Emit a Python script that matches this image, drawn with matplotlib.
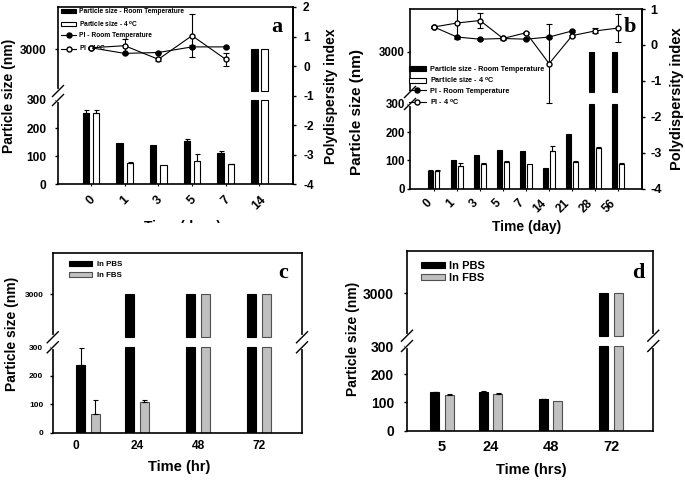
import numpy as np
import matplotlib
matplotlib.use("Agg")
import matplotlib.pyplot as plt
from matplotlib.patches import Patch, Rectangle
from matplotlib.lines import Line2D

plt.rcParams['font.family'] = ['Liberation Sans', 'DejaVu Sans']
plt.rcParams['font.weight'] = 'bold'
plt.rcParams['mathtext.fontset'] = 'custom'
plt.rcParams['mathtext.rm'] = 'Liberation Sans:bold'
plt.rcParams['mathtext.bf'] = 'Liberation Sans:bold'
plt.rcParams['axes.linewidth'] = 1.2
plt.rcParams['axes.unicode_minus'] = False

# --- panel a: storage, particle size + PI ---
a_days = ['0', '1', '3', '5', '7', '14']
a_size_rt = [253, 146, 139, 155, 111, 3000]
a_size_rt_err = [13, 0, 0, 7, 7, 0]
a_size_4c = [253, 77, 69, 83, 72, 3000]
a_size_4c_err = [13, 3, 0, 24, 2, 0]
a_pi_rt = [0.62, 0.43, 0.46, 0.65, 0.65]
a_pi_rt_err = [0.02, 0.03, 0.03, 0.05, 0.03]
a_pi_4c = [0.62, 0.69, 0.23, 1.03, 0.23]
a_pi_4c_err = [0.03, 0.23, 0.05, 0.73, 0.23]

# --- panel b ---
b_days = ['0', '1', '3', '5', '7', '14', '21', '28', '56']
b_size_rt = [62, 102, 121, 136, 133, 74, 194, 3000, 3000]
b_size_rt_err = [3, 0, 0, 0, 0, 0, 0, 0, 0]
b_size_4c = [62, 81, 87, 95, 88, 135, 95, 145, 86]
b_size_4c_err = [3, 11, 3, 2, 0, 17, 2, 2, 6]
b_pi_rt = [0.50, 0.22, 0.16, 0.18, 0.16, 0.22, 0.39]
b_pi_rt_err = [0.02, 0.03, 0.02, 0.02, 0.02, 0.04, 0.03]
b_pi_4c = [0.50, 0.61, 0.68, 0.18, 0.34, -0.52, 0.26, 0.39, 0.47]
b_pi_4c_err = [0.03, 0.45, 0.2, 0.03, 0.03, 1.1, 0.03, 0.07, 0.4]

# --- panel c / d: serum stability ---
c_hours = ['0', '24', '48', '72']
c_pbs = [237, 3000, 3000, 3000]
c_pbs_err = [62, 0, 0, 0]
c_fbs = [65, 107, 3000, 3000]
c_fbs_err = [50, 7, 0, 0]

d_hours = ['5', '24', '48', '72']
d_pbs = [136, 138, 111, 3000]
d_pbs_err = [2, 3, 2, 0]
d_fbs = [128, 130, 105, 3000]
d_fbs_err = [2, 2, 0, 0]

size_labels = ['Particle size - Room Temperature', 'Particle size - 4 $^{\\mathrm{o}}$C',
               'PI - Room Temperature', 'PI - 4 $^{\\mathrm{o}}$C']
serum_labels = ['In PBS', 'In FBS']

W, H = 685, 480
BRK = 1000  # value where the upper segment of the broken axis starts
GRAY = '#c0c0c0'

fig = plt.figure(figsize=(6.85, 4.8), dpi=100)


def box(l, t, r, b):
    return [l / W, 1 - b / H, (r - l) / W, (b - t) / H]


def fpos(x, y):
    return x / W, 1 - y / H


def broken_scale(ax, p300, pbrk, p3000, height):
    # piecewise linear y axis: 0-300 below the break, ~1000-3000 above it
    k = (p3000 - pbrk) / 2000.0
    vk = [0, 300, BRK, 3000, 20000]
    pk = [0, p300, pbrk, p3000, p3000 + 17000 * k]
    fwd = lambda v: np.interp(v, vk, pk)
    inv = lambda p: np.interp(p, pk, vk)
    ax.set_yscale('function', functions=(fwd, inv))
    ax.set_ylim(0, float(inv(height)))
    ax.set_yticks([0, 100, 200, 300, 3000])
    ax.yaxis.set_minor_locator(plt.NullLocator())
    return [p300 / height, pbrk / height]


def split_bars(ax, x, vals, errs, **kw):
    x = np.asarray(x, float)
    vals = np.asarray(vals, float)
    errs = np.asarray(errs, float)
    ax.bar(x, np.minimum(vals, 300), **kw)
    up = vals > 300
    if up.any():
        ax.bar(x[up], vals[up] - BRK, bottom=BRK, **kw)
    m = (~up) & (errs > 0)
    if m.any():
        ax.errorbar(x[m], vals[m], yerr=[np.zeros(m.sum()), errs[m]], fmt='none',
                    ecolor='black', elinewidth=0.8, capsize=1.8, capthick=0.8)


def break_marks(ax, fr, sides, wpx, hpx):
    dx, dy = 5.5 / wpx, 5.5 / hpx
    for s in sides:
        ax.plot([s, s], fr, color='white', lw=3, transform=ax.transAxes,
                clip_on=False, zorder=5)
        for f in fr:
            ax.plot([s - dx, s + dx], [f - dy, f + dy], color='black', lw=1,
                    transform=ax.transAxes, clip_on=False, zorder=6)


def size_legend(ax, anchor, fs, hl, tp, ls):
    hs = [Patch(fc='black', ec='black', lw=0.8), Patch(fc='white', ec='black', lw=0.8),
          Line2D([], [], color='black', marker='o', ms=3.6, lw=0.8),
          Line2D([], [], color='black', marker='o', mfc='white', ms=3.6, lw=0.8)]
    ax.legend(hs, size_labels, loc='upper left', bbox_to_anchor=fpos(*anchor),
              bbox_transform=fig.transFigure, frameon=False, fontsize=fs,
              handlelength=hl, handletextpad=tp, labelspacing=ls, borderpad=0,
              borderaxespad=0, handleheight=0.6)


def pi_lines(ax2, rt, rt_err, c4, c4_err):
    ax2.errorbar(np.arange(len(rt)), rt, yerr=rt_err, fmt='-o', color='black',
                 ms=3.6, lw=0.8, capsize=2.4, elinewidth=0.8, capthick=0.8, zorder=3)
    ax2.errorbar(np.arange(len(c4)), c4, yerr=c4_err, fmt='-o', color='black', mfc='white',
                 mec='black', ms=3.6, lw=0.8, capsize=2.4, elinewidth=0.8, capthick=0.8, zorder=4)


# ================= panel a =================
ax = fig.add_axes(box(58, 6.7, 292.7, 184.3))
fr = broken_scale(ax, 84.3, 93.3, 135.3, 177.6)
xa = np.arange(len(a_days))
split_bars(ax, xa - 0.15, a_size_rt, a_size_rt_err, width=0.19, facecolor='black',
           edgecolor='black', lw=0.8)
split_bars(ax, xa + 0.15, a_size_4c, a_size_4c_err, width=0.19, facecolor='white',
           edgecolor='black', lw=0.8)
ax.set_xlim(-0.98, 5.99)
ax.set_xticks(xa, a_days, rotation=45, ha='center', va='top')
ax.tick_params(axis='y', direction='out', length=2.2, width=1, labelsize=8.6, pad=6)
ax.tick_params(axis='x', direction='out', length=1.5, width=0.8, labelsize=9, pad=5.5)
break_marks(ax, fr, [0], 234.7, 177.6)
ax2 = ax.twinx()
for s in ['left', 'top', 'bottom']:
    ax2.spines[s].set_visible(False)
ax2.set_ylim(-4, 2.01)
ax2.set_yticks(range(-4, 3))
ax2.tick_params(axis='y', direction='out', length=2.2, width=1, labelsize=8.6, pad=5.3)
pi_lines(ax2, a_pi_rt, a_pi_rt_err, a_pi_4c, a_pi_4c_err)
size_legend(ax2, (61, 8), 4.8, 2.25, 0.5, 0.55)
fig.text(*fpos(277, 27), 'a', fontfamily='Liberation Serif', fontsize=16, weight='bold',
         ha='center', va='center')
fig.text(*fpos(9, 96), 'Particle size (nm)', rotation=90, ha='center', va='center', fontsize=10)
fig.text(*fpos(331, 96), 'Polydispersity index', rotation=90, ha='center', va='center',
         fontsize=10)
# x label of panel a is cut off in the original figure: only the top of the letters shows
fig.text(*fpos(183, 219.5), 'Time (days)', ha='center', va='top', fontsize=10)
fig.add_artist(Rectangle(fpos(120, 244), 130 / W, 21.5 / H, transform=fig.transFigure,
                         facecolor='white', edgecolor='none', zorder=10))

# ================= panel b =================
ax = fig.add_axes(box(410, 9, 642, 188.7))
fr = broken_scale(ax, 84.7, 96.7, 137, 179.7)
xb = np.arange(len(b_days))
split_bars(ax, xb - 0.16, b_size_rt, b_size_rt_err, width=0.2, facecolor='black',
           edgecolor='black', lw=0.8)
split_bars(ax, xb + 0.14, b_size_4c, b_size_4c_err, width=0.2, facecolor='white',
           edgecolor='black', lw=0.8)
ax.set_xlim(-1.04, 9.03)
ax.set_xticks(xb, b_days, rotation=45, ha='right', va='top')
ax.tick_params(axis='y', direction='out', length=2.2, width=1, labelsize=8.3, pad=1.5)
ax.tick_params(axis='x', direction='out', length=1.5, width=0.8, labelsize=8.6, pad=4.5)
break_marks(ax, fr, [0], 232, 179.7)
ax2 = ax.twinx()
for s in ['left', 'top', 'bottom']:
    ax2.spines[s].set_visible(False)
ax2.set_ylim(-4, 1)
ax2.set_yticks(range(-4, 2))
ax2.tick_params(axis='y', direction='out', length=2.2, width=1, labelsize=9.2, pad=3.6)
pi_lines(ax2, b_pi_rt, b_pi_rt_err, b_pi_4c, b_pi_4c_err)
size_legend(ax2, (409, 66), 5.2, 2.3, 0.55, 0.32)
fig.text(*fpos(629.5, 27.5), 'b', fontfamily='Liberation Serif', fontsize=16, weight='bold',
         ha='center', va='center')
fig.text(*fpos(357.5, 112), 'Particle size (nm)', rotation=90, ha='center', va='center',
         fontsize=11)
fig.text(*fpos(677.5, 99), 'Polydispersity index', rotation=90, ha='center', va='center',
         fontsize=10.5)
fig.text(*fpos(526.7, 226.7), 'Time (day)', ha='center', va='center', fontsize=10)

# ================= panels c and d =================
group_shift = np.array([0.2, 0, 0, 0])


def serum_panel(rect, scale, pbs, pbs_err, fbs, fbs_err, labels, tick_at_groups,
                ytick_fs, ytick_pad, xtick_fs, xtick_pad, leg):
    ax = fig.add_axes(box(*rect))
    fr = broken_scale(ax, *scale)
    pos = np.arange(len(labels))
    groups = pos + group_shift
    split_bars(ax, groups - 0.12, pbs, pbs_err, width=0.15, facecolor='black',
               edgecolor='black', lw=0.8)
    split_bars(ax, groups + 0.12, fbs, fbs_err, width=0.15, facecolor=GRAY,
               edgecolor='#505050', lw=0.8)
    ax.set_xlim(-0.38, 3.7)
    ax.set_xticks(groups if tick_at_groups else pos, labels)
    ax.tick_params(axis='y', direction='out', length=2.2, width=1, labelsize=ytick_fs,
                   pad=ytick_pad)
    ax.tick_params(axis='x', length=0, labelsize=xtick_fs, pad=xtick_pad)
    break_marks(ax, fr, [0, 1], rect[2] - rect[0], rect[3] - rect[1])
    hs = [Patch(fc='black', ec='black', lw=0.8), Patch(fc=GRAY, ec='#505050', lw=0.8)]
    ax.legend(hs, serum_labels, loc='upper left', bbox_to_anchor=fpos(*leg[0]),
              bbox_transform=fig.transFigure, frameon=False, fontsize=leg[1],
              handlelength=leg[2], handletextpad=leg[3], labelspacing=leg[4],
              borderpad=0, borderaxespad=0, handleheight=0.5)
    return ax


serum_panel((52.7, 252.7, 302, 432.7), (85.4, 95.4, 138.4, 180), c_pbs, c_pbs_err,
            c_fbs, c_fbs_err, c_hours, False, 6, 4.6, 8.6, 5.5,
            ((69, 261), 5.7, 2.87, 0.7, 0.5))
fig.text(*fpos(283, 273), 'c', fontfamily='Liberation Serif', fontsize=16, weight='bold',
         ha='center', va='center')
fig.text(*fpos(11.7, 334), 'Particle size (nm)', rotation=90, ha='center', va='center',
         fontsize=10)
fig.text(*fpos(179, 466.7), 'Time (hr)', ha='center', va='center', fontsize=10.5)

serum_panel((407, 251, 653.3, 430.7), (84.7, 95, 137.4, 179.7), d_pbs, d_pbs_err,
            d_fbs, d_fbs_err, d_hours, True, 10, 7.2, 10.5, 7,
            ((421, 261), 8, 2.2, 0.35, 0.2))
fig.text(*fpos(638.5, 273), 'd', fontfamily='Liberation Serif', fontsize=16, weight='bold',
         ha='center', va='center')
fig.text(*fpos(353.3, 339), 'Particle size (nm)', rotation=90, ha='center', va='center',
         fontsize=10)
fig.text(*fpos(531.7, 470), 'Time (hrs)', ha='center', va='center', fontsize=10.5)

fig.savefig('out.png', dpi=100, facecolor='white')
